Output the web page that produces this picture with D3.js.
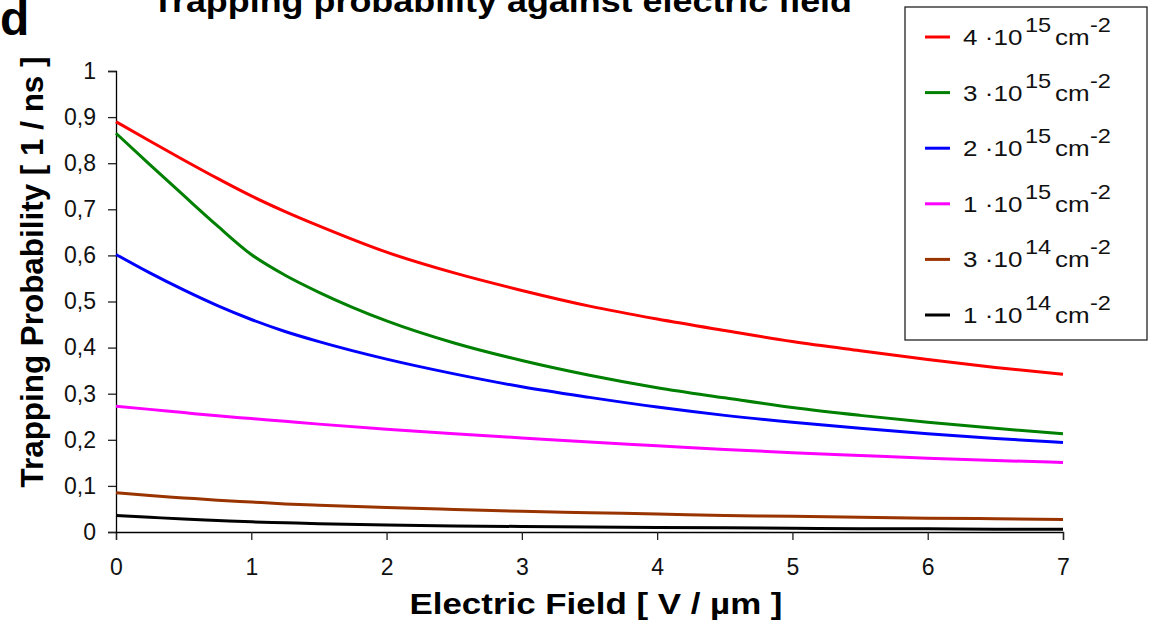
<!DOCTYPE html>
<html><head><meta charset="utf-8">
<script src="https://cdn.jsdelivr.net/npm/d3@7"></script>
<style>
body{margin:0;background:#fff;}
svg{display:block;font-family:"Liberation Sans",Arial,sans-serif;}
</style></head>
<body><svg id="c" width="1150" height="628"></svg>
<script>
const fieldValues = [0,0.25,0.5,0.75,1,1.25,1.5,2,2.5,3,3.5,4,4.5,5,5.5,6,6.5,7];
const red4e15   = [0.890,0.848,0.807,0.767,0.729,0.695,0.664,0.607,0.562,0.524,0.490,0.462,0.437,0.413,0.393,0.374,0.357,0.342];
const green3e15 = [0.865,0.797,0.730,0.664,0.602,0.557,0.520,0.458,0.410,0.372,0.340,0.313,0.291,0.270,0.253,0.238,0.225,0.213];
const blue2e15  = [0.602,0.562,0.525,0.491,0.461,0.435,0.413,0.375,0.343,0.315,0.292,0.271,0.253,0.238,0.225,0.213,0.203,0.194];
const mag1e15   = [0.273,0.266,0.259,0.252,0.246,0.240,0.234,0.223,0.213,0.204,0.195,0.187,0.179,0.172,0.166,0.160,0.155,0.151];
const brown3e14 = [0.085,0.079,0.074,0.069,0.065,0.061,0.058,0.053,0.049,0.045,0.042,0.039,0.036,0.034,0.032,0.030,0.029,0.027];
const black1e14 = [0.036,0.032,0.028,0.025,0.022,0.020,0.018,0.015,0.013,0.012,0.011,0.010,0.009,0.008,0.007,0.007,0.006,0.006];
const legendCoef = ["4","3","2","1","3","1"];
const legendExp  = ["15","15","15","15","14","14"];
const seriesColors = ["#ff0000","#008000","#0000ff","#ff00ff","#993300","#000000"];
const xTicks = [0,1,2,3,4,5,6,7];
const yTicks = [0,0.1,0.2,0.3,0.4,0.5,0.6,0.7,0.8,0.9,1];
const titleText = "Trapping probability against electric field";
const xTitle = "Electric Field [ V / µm ]";
const yTitle = "Trapping Probability [ 1 / ns ]";

const series = [red4e15,green3e15,blue2e15,mag1e15,brown3e14,black1e14];
const svg = d3.select("#c");
const x = d3.scaleLinear().domain([0,7]).range([116,1063]);
const y = d3.scaleLinear().domain([0,1]).range([532,71]);
const fmt = v => String(+v.toFixed(1)).replace(".", ",");

// axes
const gx = svg.append("g").attr("transform","translate(0,532)")
  .call(d3.axisBottom(x).tickValues(xTicks).tickSize(8).tickPadding(19).tickFormat(d=>d));
const gy = svg.append("g").attr("transform","translate(116,0)")
  .call(d3.axisLeft(y).tickValues(yTicks).tickSize(8).tickPadding(12).tickFormat(fmt));
[gx,gy].forEach(g=>{
  g.select(".domain").attr("stroke","#000").attr("stroke-width",1.3);
  g.selectAll(".tick line").attr("stroke","#222").attr("stroke-width",1.3);
  g.selectAll(".tick text").attr("font-size",23).attr("fill","#111")
   .attr("font-family","Liberation Sans, Arial, sans-serif");
});

// lines
const line = d3.line().x((d,i)=>x(fieldValues[i])).y(d=>y(d)).curve(d3.curveMonotoneX);
series.forEach((s,k)=>{
  svg.append("path").attr("d",line(s)).attr("fill","none")
    .attr("stroke",seriesColors[k]).attr("stroke-width",3);
});

// titles
svg.append("text").attr("x",0).attr("y",35).attr("font-size",48).attr("font-weight","bold").text("d");
svg.append("text").attr("x",502).attr("y",12).attr("text-anchor","middle")
  .attr("font-size",32).attr("font-weight","bold")
  .attr("textLength",700).attr("lengthAdjust","spacingAndGlyphs").text(titleText);
svg.append("text").attr("x",596).attr("y",614).attr("text-anchor","middle")
  .attr("font-size",30).attr("font-weight","bold")
  .attr("textLength",373).attr("lengthAdjust","spacingAndGlyphs").text(xTitle);
svg.append("text").attr("transform","translate(43,272) rotate(-90)").attr("text-anchor","middle")
  .attr("font-size",31).attr("font-weight","bold")
  .attr("textLength",431).attr("lengthAdjust","spacingAndGlyphs").text(yTitle);

// legend
const lg = svg.append("g");
lg.append("rect").attr("x",905).attr("y",7).attr("width",242).attr("height",333)
  .attr("fill","#fff").attr("stroke","#222").attr("stroke-width",1.3);
const rowY = d3.scaleLinear().domain([0,5]).range([37,315]);
legendCoef.forEach((c,i)=>{
  const ry = rowY(i);
  lg.append("line").attr("x1",925).attr("x2",950).attr("y1",ry).attr("y2",ry)
    .attr("stroke",seriesColors[i]).attr("stroke-width",3);
  const t = lg.append("text").attr("transform",`translate(963,${ry+8}) scale(1.18,1)`)
    .attr("font-size",22).attr("fill","#111");
  t.append("tspan").attr("x",0).attr("y",0).text(c);
  t.append("tspan").attr("x",18.5).attr("y",0).text("·10");
  t.append("tspan").attr("x",52.5).attr("y",-13).attr("font-size",20).text(legendExp[i]);
  t.append("tspan").attr("x",78).attr("y",0).text("cm");
  t.append("tspan").attr("x",107.6).attr("y",-13).attr("font-size",20).text("-2");
});
</script></body></html>
